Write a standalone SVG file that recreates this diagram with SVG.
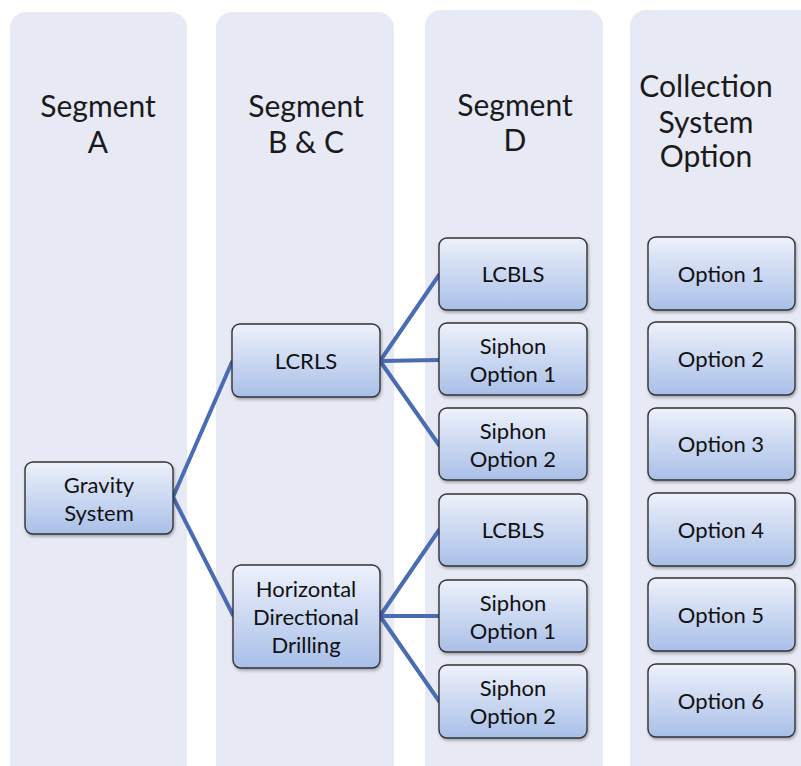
<svg xmlns="http://www.w3.org/2000/svg" width="801" height="766" viewBox="0 0 801 766">
<defs>
<linearGradient id="ng" x1="0" y1="0" x2="0" y2="1">
<stop offset="0" stop-color="#edf1fb"/>
<stop offset="1" stop-color="#a9bfe8"/>
</linearGradient>
<filter id="sh" x="-10%" y="-10%" width="130%" height="130%">
<feDropShadow dx="1" dy="2" stdDeviation="1.5" flood-color="#000" flood-opacity="0.3"/>
</filter>
</defs>
<style>
.lane{fill:#e7e9f5;}
.node{fill:url(#ng);stroke:#333;stroke-width:1.4;filter:url(#sh);}
.hd{font-family:Lato,"Open Sans",sans-serif;font-size:30px;fill:#1a1a1a;text-anchor:middle;}
.tx{font-family:Lato,"Open Sans",sans-serif;font-size:22px;fill:#111;text-anchor:middle;}
.cn{stroke:#4a6cb4;stroke-width:4;fill:none;stroke-linecap:round;}
</style>
<rect width="801" height="766" fill="#ffffff"/>
<g id="lanes">
<rect id="laneA" class="lane" x="10" y="12" width="177" height="770" rx="16"/>
<rect id="laneBC" class="lane" x="216" y="12" width="178" height="770" rx="16"/>
<rect id="laneD" class="lane" x="425" y="10" width="178" height="770" rx="16"/>
<rect id="laneE" class="lane" x="630" y="10" width="190" height="770" rx="16"/>
</g>
<g id="headers">
<text class="hd" x="98" y="117">Segment</text>
<text class="hd" x="98" y="153">A</text>
<text class="hd" x="306" y="117">Segment</text>
<text class="hd" x="306" y="153">B &amp; C</text>
<text class="hd" x="515" y="116">Segment</text>
<text class="hd" x="515" y="151">D</text>
<text class="hd" x="706" y="97">Collection</text>
<text class="hd" x="706" y="133">System</text>
<text class="hd" x="706" y="167">Option</text>
</g>
<g id="connectors">
<line class="cn" x1="173" y1="497" x2="232" y2="362"/>
<line class="cn" x1="173" y1="497" x2="233" y2="615"/>
<line class="cn" x1="380" y1="361" x2="439" y2="275"/>
<line class="cn" x1="380" y1="361" x2="439" y2="360"/>
<line class="cn" x1="380" y1="361" x2="439" y2="445"/>
<line class="cn" x1="380" y1="616" x2="439" y2="530"/>
<line class="cn" x1="380" y1="616" x2="439" y2="616"/>
<line class="cn" x1="380" y1="616" x2="439" y2="701"/>
</g>
<g id="gravity"><rect class="node" x="25" y="462" width="148" height="72" rx="8"/><text class="tx" x="99" y="493">Gravity</text><text class="tx" x="99" y="521">System</text></g>
<g id="lcrls"><rect class="node" x="232" y="324" width="148" height="73" rx="8"/><text class="tx" x="306" y="369">LCRLS</text></g>
<g id="hdd"><rect class="node" x="233" y="565" width="147" height="103" rx="8"/><text class="tx" x="306" y="597">Horizontal</text><text class="tx" x="306" y="625">Directional</text><text class="tx" x="306" y="653">Drilling</text></g>
<g id="d1"><rect class="node" x="439" y="238" width="148" height="72" rx="8"/><text class="tx" x="513" y="282">LCBLS</text></g>
<g id="d2"><rect class="node" x="439" y="323" width="148" height="72" rx="8"/><text class="tx" x="513" y="354">Siphon</text><text class="tx" x="513" y="382">Option 1</text></g>
<g id="d3"><rect class="node" x="439" y="408" width="148" height="72" rx="8"/><text class="tx" x="513" y="439">Siphon</text><text class="tx" x="513" y="467">Option 2</text></g>
<g id="d4"><rect class="node" x="439" y="494" width="148" height="72" rx="8"/><text class="tx" x="513" y="538">LCBLS</text></g>
<g id="d5"><rect class="node" x="439" y="580" width="148" height="72" rx="8"/><text class="tx" x="513" y="611">Siphon</text><text class="tx" x="513" y="639">Option 1</text></g>
<g id="d6"><rect class="node" x="439" y="665" width="148" height="73" rx="8"/><text class="tx" x="513" y="696">Siphon</text><text class="tx" x="513" y="724">Option 2</text></g>
<g id="o1"><rect class="node" x="648" y="237" width="147" height="73" rx="8"/><text class="tx" x="721" y="282">Option 1</text></g>
<g id="o2"><rect class="node" x="648" y="322" width="147" height="73" rx="8"/><text class="tx" x="721" y="367">Option 2</text></g>
<g id="o3"><rect class="node" x="648" y="408" width="147" height="72" rx="8"/><text class="tx" x="721" y="452">Option 3</text></g>
<g id="o4"><rect class="node" x="648" y="493" width="147" height="73" rx="8"/><text class="tx" x="721" y="538">Option 4</text></g>
<g id="o5"><rect class="node" x="648" y="578" width="147" height="73" rx="8"/><text class="tx" x="721" y="623">Option 5</text></g>
<g id="o6"><rect class="node" x="648" y="664" width="147" height="73" rx="8"/><text class="tx" x="721" y="709">Option 6</text></g>
</svg>
